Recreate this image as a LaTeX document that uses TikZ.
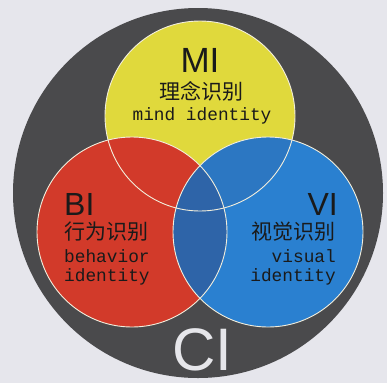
\documentclass[tikz,border=0pt]{standalone}
\usepackage{fontspec}
\setmainfont{Liberation Sans}
\newfontfamily\cjk{Noto Sans CJK SC}
\newfontfamily\monof{Liberation Mono}
\definecolor{bgc}{HTML}{E6E6EC}
\definecolor{darkc}{HTML}{4A4A4C}
\definecolor{yelc}{HTML}{E0D93C}
\definecolor{redc}{HTML}{D23A2A}
\definecolor{bluec}{HTML}{2A80D0}
\definecolor{ybc}{HTML}{2C77C2}
\definecolor{ovlc}{HTML}{2E64A8}
\definecolor{linec}{HTML}{F2EEDC}
\definecolor{txtc}{HTML}{1A1A1A}
\definecolor{cic}{HTML}{E6E6EA}
\begin{document}
\begin{tikzpicture}[x=1pt,y=-1pt,
  big/.style={inner sep=0pt,text=txtc,font=\fontsize{32}{32}\selectfont},
  cn/.style={inner sep=0pt,text=txtc,font=\cjk\fontsize{21}{21}\selectfont},
  en/.style={inner sep=0pt,text=txtc,font=\monof\fontsize{17.8}{18}\selectfont},
  ring/.style={draw=linec,line width=0.9pt}]
\fill[bgc] (0,0) rectangle (387,383);
\useasboundingbox (0,0) rectangle (387,383);
\fill[darkc] (198,193) circle[radius=185pt];
\coordinate (cy) at (200,116);
\coordinate (cr) at (132,232);
\coordinate (cb) at (268,232);
\fill[yelc] (cy) circle[radius=95pt];
\fill[redc] (cr) circle[radius=95pt];
\fill[bluec] (cb) circle[radius=95pt];
\begin{scope}
  \clip (cy) circle[radius=95pt];
  \fill[ybc] (cb) circle[radius=95pt];
\end{scope}
\begin{scope}
  \clip (cr) circle[radius=95pt];
  \fill[ovlc] (cb) circle[radius=95pt];
\end{scope}
\draw[ring] (cy) circle[radius=95pt];
\draw[ring] (cr) circle[radius=95pt];
\draw[ring] (cb) circle[radius=95pt];
% MI
\node[big,anchor=base,font=\fontsize{35}{35}\selectfont] (mi) at (200,72) {MI};
\node[cn] (micn) at (201,91) {理念识别};
\node[en,anchor=base] (mien) at (202,120) {mind identity};
% BI
\node[big,anchor=base west] (bi) at (64,215) {BI};
\node[cn,anchor=west] (bicn) at (64,232) {行为识别};
\node[en,anchor=base west] (bien1) at (64,262) {behavior};
\node[en,anchor=base west] (bien2) at (64,281) {identity};
% VI
\node[big,anchor=base east] (vi) at (338,215) {VI};
\node[cn,anchor=east] (vicn) at (336,232) {视觉识别};
\node[en,anchor=base east] (vien1) at (336,262) {visual};
\node[en,anchor=base east] (vien2) at (336,281) {identity};
% CI
\node[inner sep=0pt,anchor=base,text=cic,font=\fontsize{60}{60}\selectfont] (ci) at (202,370) {CI};
\end{tikzpicture}
\end{document}
